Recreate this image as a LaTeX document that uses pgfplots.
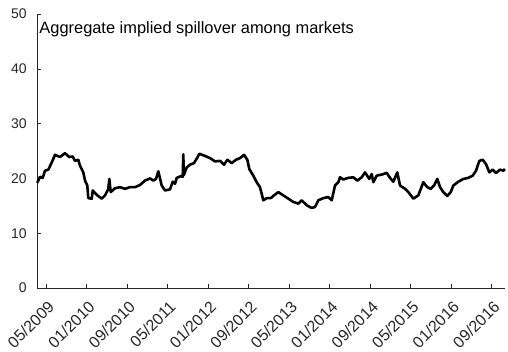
\documentclass[border=0pt]{standalone}
\usepackage{pgfplots}
\pgfplotsset{compat=1.18}
\usepackage{fontspec}
\setmainfont{Liberation Sans}
\definecolor{axisgray}{RGB}{38,38,38}

% Aggregate implied spillover index; x = months since 05/2009
\pgfplotstableread{
x y
-1.78 19.2
-1.24 20.3
-0.71 20.1
-0.26 21.4
0.40 21.6
1.07 22.9
1.72 24.3
2.71 23.9
3.69 24.6
4.54 23.9
5.22 24.0
5.67 23.2
6.32 23.4
6.66 22.3
7.31 21.1
7.65 19.6
8.10 18.7
8.30 16.4
8.97 16.3
9.17 17.8
9.96 17.0
10.95 16.3
11.60 16.9
12.25 18.1
12.45 19.9
12.72 17.5
13.57 18.2
14.56 18.4
15.55 18.1
16.54 18.4
17.53 18.4
18.51 18.8
19.50 19.6
20.49 20.0
21.14 19.6
21.68 19.9
22.13 21.3
22.80 18.7
23.45 17.8
24.44 18.0
24.98 19.4
25.43 19.0
25.77 20.1
26.56 20.4
26.95 20.3
27.07 24.4
27.17 20.6
27.74 22.0
28.39 22.5
29.18 22.8
29.72 23.6
30.23 24.5
31.36 24.1
32.35 23.7
33.34 23.1
34.33 23.2
35.12 22.5
35.76 23.4
36.63 22.8
37.48 23.4
38.27 23.7
39.06 24.3
39.72 23.4
40.11 21.7
40.90 20.5
41.57 19.3
42.22 18.4
42.88 16.0
43.55 16.4
44.34 16.4
44.99 16.9
45.84 17.5
46.83 16.9
47.82 16.3
48.80 15.7
49.79 15.4
50.46 16.0
51.45 15.1
52.44 14.6
53.09 14.8
53.74 16.0
54.73 16.4
55.72 16.6
56.39 16.0
57.04 18.7
57.70 19.3
58.03 20.2
58.68 19.8
59.67 20.1
60.66 20.2
61.45 19.6
62.32 20.2
62.97 21.1
63.82 19.9
64.30 20.8
64.61 19.3
65.28 20.5
66.27 20.7
67.26 21.0
67.91 20.1
68.56 19.4
69.35 21.1
69.89 18.7
70.88 18.1
71.53 17.5
72.52 16.3
73.50 16.9
74.49 19.3
75.28 18.4
75.95 18.1
76.61 18.7
77.26 19.9
77.79 18.4
78.44 17.5
79.23 16.8
79.91 17.5
80.42 18.7
81.41 19.4
82.40 19.9
83.38 20.1
84.25 20.5
84.90 21.4
85.56 23.2
86.23 23.4
86.88 22.6
87.53 21.1
88.20 21.6
88.85 21.0
89.64 21.6
90.30 21.4
90.63 21.7
}\spillover

\begin{document}
\begin{tikzpicture}
\begin{axis}[
  scale only axis,
  width=467.7bp, height=274bp,
  xmin=-1.78, xmax=90.63,
  ymin=0, ymax=50,
  axis lines*=left,
  axis line style={color=axisgray, line width=0.6bp},
  tick align=inside,
  major tick length=4bp,
  tick style={color=axisgray, line width=0.6bp},
  xtick={0,8,16,24,32,40,48,56,64,72,80,88},
  xticklabels={05/2009,01/2010,09/2010,05/2011,01/2012,09/2012,05/2013,01/2014,09/2014,05/2015,01/2016,09/2016},
  ytick={0,10,20,30,40,50},
  /pgf/number format/assume math mode=true,
  y tick label style={font=\fontsize{14bp}{16bp}\selectfont, text=axisgray, xshift=-7bp},
  x tick label style={font=\fontsize{16bp}{18bp}\selectfont, text=axisgray,
    xshift=5bp, yshift=-16bp, rotate=45, anchor=east, inner sep=0pt},
  clip=false,
]
\addplot[black, line width=2.6bp, line join=round] table {\spillover};
\node[anchor=north west, inner sep=0pt, font=\fontsize{16.4bp}{18bp}\selectfont, text=black]
  at ([xshift=2bp, yshift=-7.5bp]rel axis cs:0,1) {Aggregate implied spillover among markets};
\end{axis}
\pgfresetboundingbox
\path[use as bounding box] ([xshift=-37.3bp, yshift=-64bp]current axis.south west)
  rectangle ([xshift=3bp, yshift=14bp]current axis.north east);
\end{tikzpicture}
\end{document}
